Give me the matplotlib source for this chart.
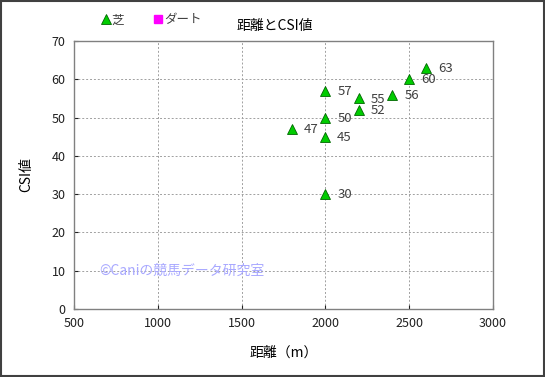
import matplotlib.pyplot as plt
from matplotlib.patches import Rectangle

plt.rcParams['font.family'] = ['Noto Sans CJK JP', 'DejaVu Sans']

# 芝 data: distance (m) vs CSI
dist = [2000, 2000, 2000, 2000, 1800, 2200, 2200, 2400, 2500, 2600]
csi = [30, 45, 50, 57, 47, 55, 52, 56, 60, 63]

fig = plt.figure(figsize=(5.45, 3.77), dpi=100)
ax = fig.add_axes([74/545, 1-309/377, (493-74)/545, (309-41)/377])

ax.plot(dist, csi, linestyle='none', marker='^', markersize=6.5,
        markerfacecolor='#00cc00', markeredgecolor='#006600', markeredgewidth=0.6,
        label='芝', zorder=3)
ax.plot([], [], linestyle='none', marker='s', markersize=6,
        color='#ff00ff', label='ダート')

for x, y in zip(dist, csi):
    ax.annotate(str(y), (x, y), xytext=(8.5, -0.5), textcoords='offset points',
                fontsize=9.5, color='#404040', va='center', ha='left')

ax.set_xlim(500, 3000)
ax.set_ylim(0, 70)
ax.set_xticks(range(500, 3001, 500))
ax.set_yticks(range(0, 71, 10))
ax.grid(True, linestyle=(0, (2, 2)), color='#a0a0a0', linewidth=0.7)
ax.tick_params(direction='in', length=3, labelsize=9, colors='#202020', pad=6)
for s in ax.spines.values():
    s.set_color('#808080')
    s.set_linewidth(1.0)

ax.set_xlabel('距離（m）', fontsize=10, labelpad=11)
ax.set_ylabel('CSI値', fontsize=10, labelpad=13)
fig.text(275/545, 1-26/377, '距離とCSI値', fontsize=10, ha='center', va='center')

ax.text(0.06, 0.144, '©Caniの競馬データ研究室', transform=ax.transAxes,
        fontsize=10, color='#a8a8ff', va='center', ha='left')

leg = fig.legend(loc='center left', bbox_to_anchor=(88/545, 1-20/377), ncol=2,
                 frameon=False, fontsize=9, handletextpad=0.0, columnspacing=2.2,
                 handlelength=1.0, markerscale=1.0)
for t in leg.get_texts():
    t.set_color('#404040')

fig.patches.append(Rectangle((0.002, 0.003), 0.996, 0.994, transform=fig.transFigure,
                             fill=False, edgecolor='#404040', linewidth=1.5))

fig.savefig('out.png', dpi=100)
